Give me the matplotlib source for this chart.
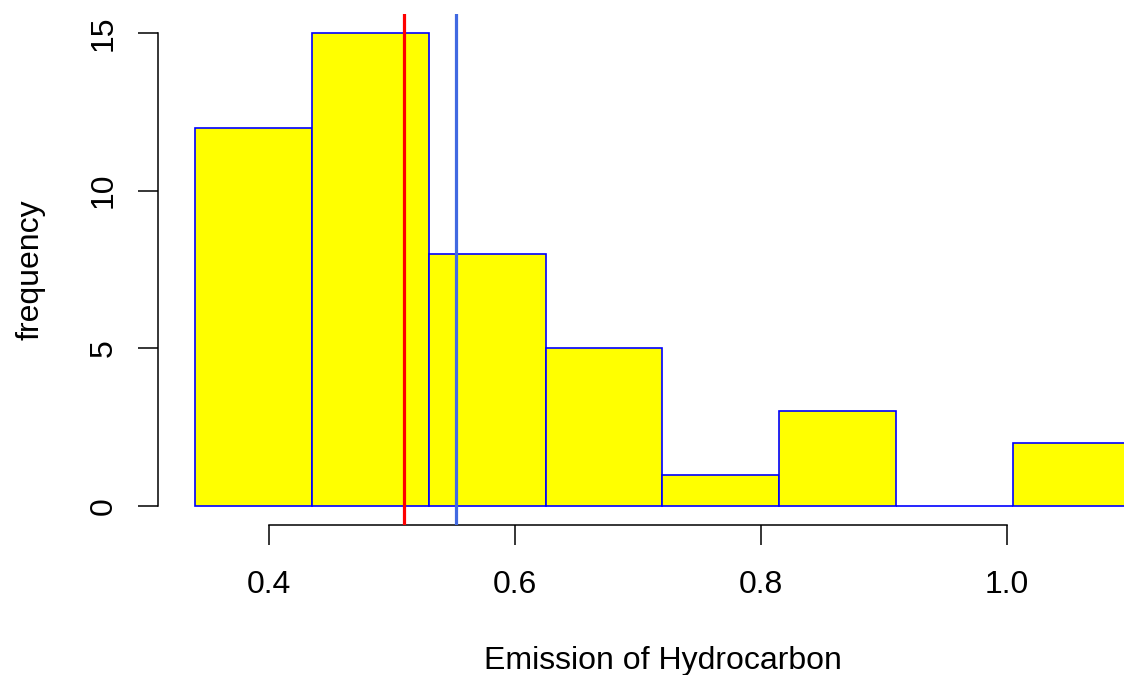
import matplotlib
matplotlib.use("Agg")
import matplotlib.pyplot as plt
import numpy as np

# histogram of hydrocarbon emission
bin_edges = [0.34, 0.435, 0.53, 0.625, 0.72, 0.815, 0.91, 1.005, 1.10]
counts = [12, 15, 8, 5, 1, 3, 0, 2]
median_val = 0.51
mean_val = 0.552
x_ticks = [0.4, 0.6, 0.8, 1.0]
y_ticks = [0, 5, 10, 15]

plt.rcParams["font.family"] = ["Liberation Sans", "DejaVu Sans"]

W, H = 1124, 675
fig = plt.figure(figsize=(W / 100, H / 100), dpi=100)

# plot region in pixels (R style, right part cropped by the figure edge)
left, right, top, bottom = 158, 1167, 14, 525
ax = fig.add_axes([left / W, (H - bottom) / H, (right - left) / W, (bottom - top) / H])

xr = bin_edges[-1] - bin_edges[0]
ax.set_xlim(bin_edges[0] - 0.04 * xr, bin_edges[-1] + 0.04 * xr)
ax.set_ylim(-0.04 * 15, 15 + 0.04 * 15)

edges = np.array(bin_edges)
ax.bar(edges[:-1], counts, width=np.diff(edges), align="edge",
       color="yellow", edgecolor="blue", linewidth=1.2, zorder=2)

ax.axvline(median_val, color="red", linewidth=2.3, zorder=3)
ax.axvline(mean_val, color="royalblue", linewidth=2.3, zorder=3)

for s in ["top", "right"]:
    ax.spines[s].set_visible(False)
ax.spines["left"].set_bounds(0, 15)
ax.spines["bottom"].set_bounds(0.4, 1.0)
for s in ["left", "bottom"]:
    ax.spines[s].set_linewidth(1.1)

fs = 23
ax.set_xticks(x_ticks)
ax.set_xticklabels(["0.4", "0.6", "0.8", "1.0"])
ax.set_yticks(y_ticks)
ax.set_yticklabels([str(v) for v in y_ticks], rotation=90, va="center")
ax.tick_params(axis="both", length=14.4, width=1.1, labelsize=fs)
ax.tick_params(axis="x", pad=18)
ax.tick_params(axis="y", pad=14)

ax.set_xlabel("Emission of Hydrocarbon", fontsize=fs, labelpad=33)
ax.set_ylabel("frequency", fontsize=fs, labelpad=31)

fig.savefig("out.png", dpi=100)
